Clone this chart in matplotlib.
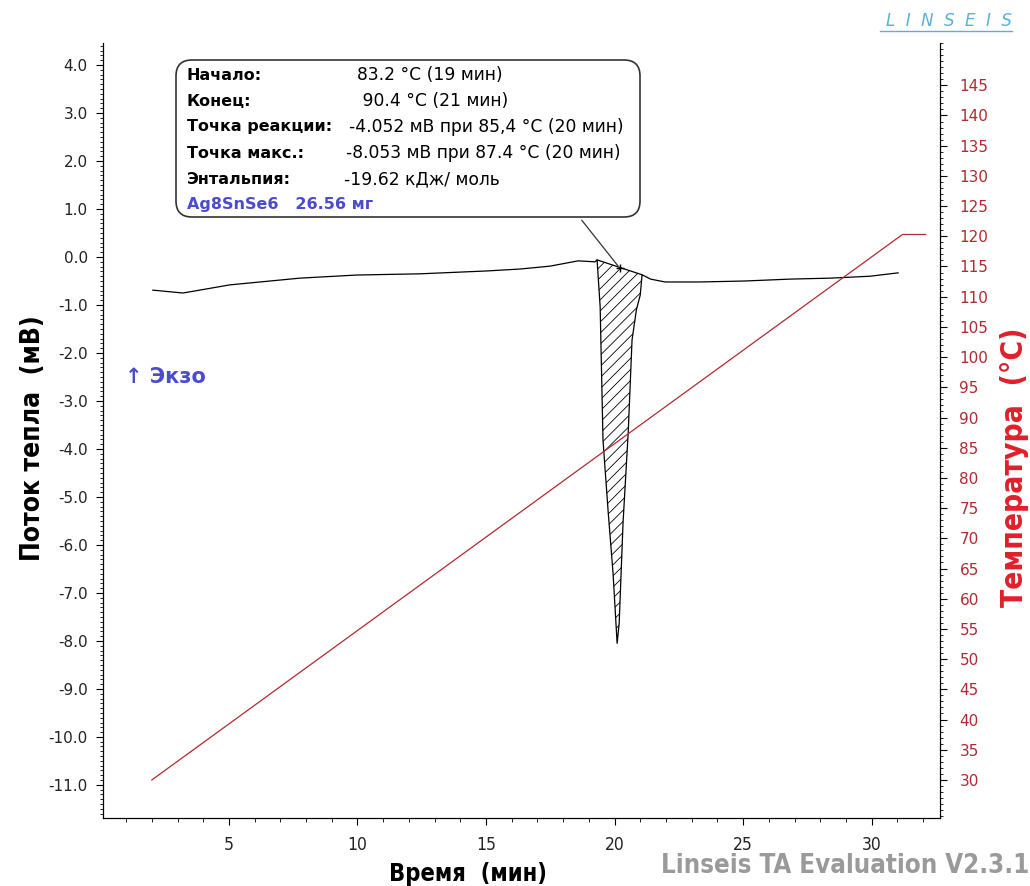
import numpy as np
import matplotlib
matplotlib.use("Agg")
import matplotlib.pyplot as plt
from matplotlib.patches import FancyBboxPatch
from matplotlib.ticker import MultipleLocator, FormatStrFormatter
from matplotlib.transforms import IdentityTransform

# ---------------- DATA ----------------
# DSC heat-flow curve (time, min / heat flow, mV)
time_dsc = [2.04, 3.21, 5.04, 7.76, 9.98, 12.43, 15.04, 16.33, 17.49, 18.58, 19.24,
            19.32, 19.44, 19.55, 19.75, 19.94, 20.10, 20.18, 20.33, 20.53, 20.68,
            20.85, 21.00, 21.07, 21.40, 21.97, 23.30, 25.05, 26.83, 28.40, 29.94, 31.03]
heat_flow = [-0.69, -0.75, -0.58, -0.44, -0.375, -0.35, -0.29, -0.25, -0.19, -0.08, -0.10,
             -0.06, -1.04, -3.81, -5.30, -6.58, -8.05, -7.63, -5.54, -3.67, -1.73,
             -1.10, -0.79, -0.37, -0.46, -0.52, -0.52, -0.50, -0.46, -0.44, -0.40, -0.33]

# integration baseline ends (onset / end of the peak)
base_t = [19.32, 21.07]
base_hf = [-0.06, -0.37]

# temperature program
time_temp = [2.0, 31.2, 32.1]
temperature = [30.0, 120.3, 120.3]

info_labels = ["Начало:", "Конец:", "Точка реакции:", "Точка макс.:", "Энтальпия:"]
info_values = ["83.2 °C (19 мин)", " 90.4 °C (21 мин)", "-4.052 мВ при 85,4 °C (20 мин)",
               "-8.053 мВ при 87.4 °C (20 мин)", "-19.62 кДж/ моль"]
value_x = [357, 357, 349, 346, 344]
sample_text = "Ag8SnSe6   26.56 мг"

RED = "#b02a30"
BLUE = "#4b4bd0"
plt.rcParams["hatch.linewidth"] = 0.6

# ---------------- FIGURE ----------------
W, H = 1030, 886
fig = plt.figure(figsize=(W / 100, H / 100), dpi=100)
ax = fig.add_axes([103 / W, 1 - 818 / H, (940 - 103) / W, (818 - 43) / H])
ax2 = ax.twinx()

ax.set_xlim(0.1, 32.66)
ax.set_ylim(-11.69, 4.46)
ax2.set_ylim(23.7, 152.0)

ax.plot(time_dsc, heat_flow, color="black", lw=0.9)

# hatched peak area between curve and baseline
t = np.array(time_dsc)
hf = np.array(heat_flow)
m = (t >= base_t[0]) & (t <= base_t[1])
base = np.interp(t[m], base_t, base_hf)
ax.fill_between(t[m], hf[m], base, facecolor="none", edgecolor="black",
                hatch="///", lw=0)
ax.plot(base_t, base_hf, color="black", lw=0.9)

ax2.plot(time_temp, temperature, color=RED, lw=0.9)

# spines / ticks
for a in (ax, ax2):
    a.spines["top"].set_visible(False)
ax.xaxis.set_minor_locator(MultipleLocator(1))
ax.yaxis.set_minor_locator(MultipleLocator(0.1))
ax.yaxis.set_major_formatter(FormatStrFormatter("%.1f"))
ax2.yaxis.set_minor_locator(MultipleLocator(1))
ax.set_xticks([5, 10, 15, 20, 25, 30])
ax.set_yticks(np.arange(-11, 5, 1))
ax2.set_yticks(np.arange(30, 150, 5))

ax.tick_params(axis="x", which="major", direction="out", length=5, pad=8,
               labelsize=12.5, labelcolor="#222222")
ax.tick_params(axis="x", which="minor", direction="out", length=3)
ax.tick_params(axis="y", which="major", direction="out", length=5, pad=6,
               labelsize=11, labelcolor="#222222")
ax.tick_params(axis="y", which="minor", direction="out", length=2.5)
ax2.tick_params(axis="y", which="major", direction="out", length=5, pad=9,
                labelsize=11, labelcolor=RED)
ax2.tick_params(axis="y", which="minor", direction="out", length=2.5)
for lab in ax.get_xticklabels():
    lab.set_fontstretch("condensed")

ax.set_xlabel("Время  (мин)", fontsize=17, fontweight="bold",
              fontstretch="condensed", labelpad=6, x=0.436)
ax.set_ylabel("Поток тепла  (мВ)", fontsize=19, fontweight="bold",
              fontstretch="condensed", labelpad=2, y=0.49)
ax2.set_ylabel("Температура  (°C)", fontsize=21.5, fontweight="bold",
               fontstretch="condensed", color="#e0202a", labelpad=8, y=0.453)

# ---------------- ANNOTATIONS ----------------
def fx(px):
    return px / W

def fy(py):
    return 1 - py / H

box = FancyBboxPatch((176, H - 217), 640 - 176, 217 - 60,
                     boxstyle="round,pad=0,rounding_size=16",
                     transform=IdentityTransform(), facecolor="white",
                     edgecolor="#333333", lw=1.2, zorder=5)
fig.patches.append(box)

row_y = [75, 101, 127, 153, 179]
for lab, val, vx, ry in zip(info_labels, info_values, value_x, row_y):
    fig.text(fx(187), fy(ry), lab, fontsize=11.5, fontweight="bold",
             va="center", ha="left", zorder=6)
    fig.text(fx(vx), fy(ry), val, fontsize=12.3, va="center", ha="left", zorder=6)
fig.text(fx(187), fy(205), sample_text, fontsize=11.5, fontweight="bold",
         color=BLUE, va="center", ha="left", zorder=6)

ax.annotate("", xy=(20.2, -0.23), xycoords="data",
            xytext=(fx(580), fy(218)), textcoords="figure fraction",
            arrowprops=dict(arrowstyle="-", color="#333333", lw=0.9))
ax.plot([20.2], [-0.23], marker="+", color="black", ms=6)

fig.text(fx(125), fy(377), "↑ Экзо", fontsize=15, fontweight="bold",
         color=BLUE, va="center", ha="left")

fig.text(fx(1029), fy(866), "Linseis TA Evaluation V2.3.1", fontsize=18.5,
         fontweight="bold", fontstretch="condensed", color="#9a9a9a",
         ha="right", va="center")

fig.text(fx(1012), fy(21), "L  I  N  S  E  I  S", fontsize=12, style="italic",
         color="#5ab0d8", ha="right", va="center")
fig.add_artist(plt.Line2D([fx(880), fx(1012)], [fy(31), fy(31)],
                          color="#5ab0d8", lw=1))

fig.savefig("out.png", dpi=100)
